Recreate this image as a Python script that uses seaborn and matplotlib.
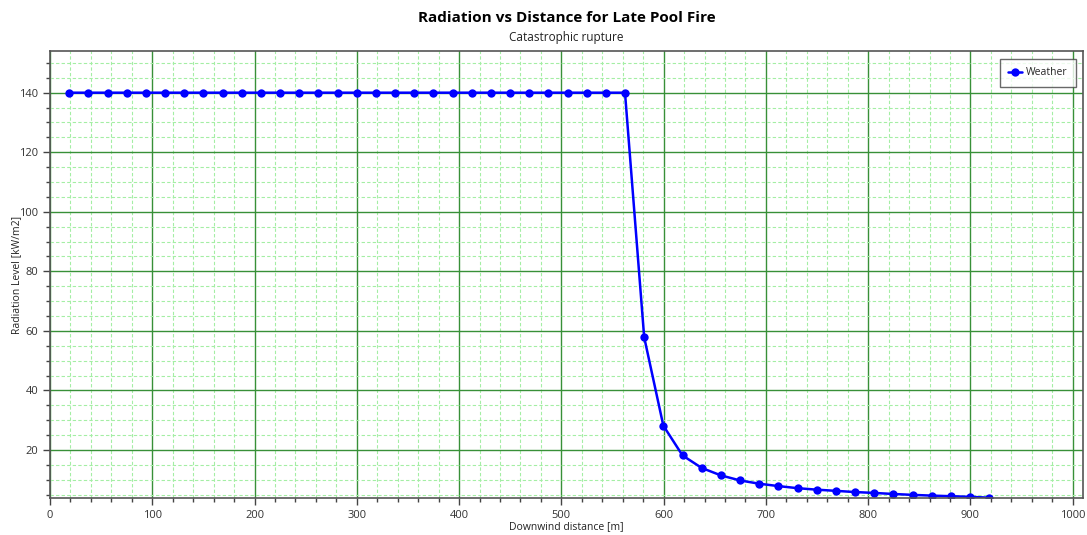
import matplotlib
matplotlib.use("Agg")
import matplotlib.pyplot as plt
from matplotlib.ticker import MultipleLocator
import seaborn as sns
import pandas as pd

# downwind distance [m]
distance = [18.74, 37.48, 56.22, 74.96, 93.70, 112.44, 131.18, 149.92, 168.66, 187.40,
            206.14, 224.88, 243.62, 262.36, 281.10, 299.84, 318.58, 337.32, 356.06, 374.80,
            393.54, 412.28, 431.02, 449.76, 468.50, 487.24, 505.98, 524.72, 543.46, 562.20,
            580.94, 599.68, 618.42, 637.16, 655.90, 674.64, 693.38, 712.12, 730.86, 749.60,
            768.34, 787.08, 805.82, 824.56, 843.30, 862.04, 880.78, 899.52, 918.26]
# radiation level [kW/m2]
radiation = [140] * 30 + [57.9, 28.2, 18.2, 14.0, 11.5, 9.8, 8.7, 7.9, 7.2, 6.7,
                          6.3, 5.9, 5.6, 5.25, 4.95, 4.7, 4.5, 4.3, 4.0]
series = "Weather"

df = pd.DataFrame({"distance": distance, "radiation": radiation, "series": series})

sns.set_style("white")
plt.rcParams["font.family"] = ["Open Sans", "DejaVu Sans"]

fig = plt.figure(figsize=(10.87, 5.35), dpi=100)
ax = fig.add_axes([50 / 1087, 1 - 498 / 535, (1083 - 50) / 1087, (498 - 51) / 535])

sns.lineplot(data=df, x="distance", y="radiation", hue="series", palette=["#0000ff"],
             marker="o", markersize=6, markeredgewidth=0, linewidth=1.8, ax=ax)

ax.set_xlim(0, 1010)
ax.set_ylim(3.9, 154)
ax.xaxis.set_major_locator(MultipleLocator(100))
ax.xaxis.set_minor_locator(MultipleLocator(20))
ax.yaxis.set_major_locator(MultipleLocator(20))
ax.yaxis.set_minor_locator(MultipleLocator(5))
ax.set_yticks([20, 40, 60, 80, 100, 120, 140])

ax.grid(which="minor", color="#a4eea4", linestyle=(0, (3, 2)), linewidth=0.8)
ax.grid(which="major", color="#389038", linestyle="-", linewidth=1.0)
ax.set_axisbelow(True)

for s in ax.spines.values():
    s.set_color("#555555")
    s.set_linewidth(1.2)
ax.tick_params(which="major", direction="out", length=5, width=1, color="#444444",
               labelsize=8, labelcolor="#333333", left=True, bottom=True)
ax.tick_params(which="minor", direction="out", length=3, width=1, color="#444444",
               left=True, bottom=True)

ax.set_xlabel("Downwind distance [m]", fontsize=7.5, color="#222222")
ax.set_ylabel("Radiation Level [kW/m2]", fontsize=7.5, color="#222222")
ax.xaxis.set_label_coords(0.5, (498 - 527) / 447)
ax.yaxis.set_label_coords((17 - 50) / 1033, 0.5)
ax.xaxis.label.set_va("center")
ax.yaxis.label.set_va("center")

fig.text(566.5 / 1087, 1 - 18 / 535, "Radiation vs Distance for Late Pool Fire", ha="center",
         va="center", fontsize=11, fontweight="bold", color="black")
fig.text(566.5 / 1087, 1 - 38 / 535, "Catastrophic rupture", ha="center", va="center",
         fontsize=8.5, color="#222222")

leg = ax.legend(loc="upper right", fontsize=7.5, frameon=True, fancybox=False,
                handlelength=1.3, handletextpad=0.4, borderpad=0.8, borderaxespad=0,
                bbox_to_anchor=((1076 - 50) / 1033, (498 - 59) / 447))
leg.get_frame().set_edgecolor("#444444")
leg.get_frame().set_linewidth(1.0)
leg.set_title(None)

fig.savefig("out.png", dpi=100)
